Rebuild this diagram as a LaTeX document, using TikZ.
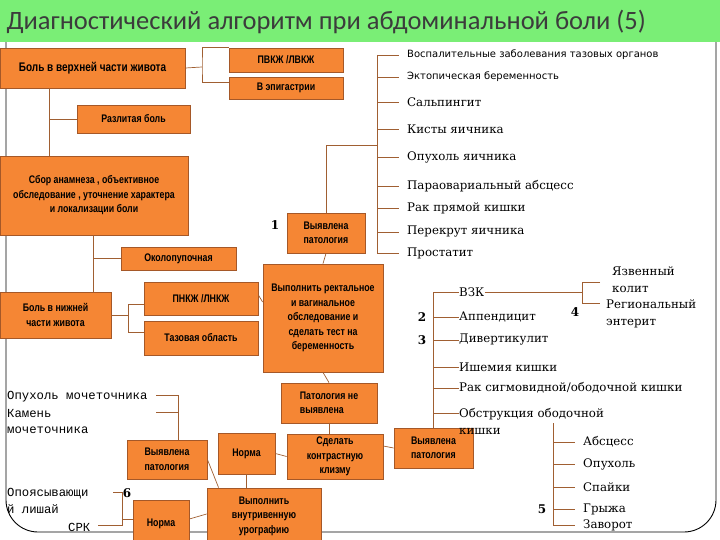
\documentclass[tikz,border=0pt]{standalone}
\usepackage{fontspec}
\setmainfont{DejaVu Serif}
\newfontfamily\boxfont{Liberation Sans}[FakeStretch=0.8]
\newfontfamily\titlefont{Carlito}
\newfontfamily\notefont{DejaVu Sans}
\newfontfamily\sidefont{Liberation Mono}
\definecolor{boxfill}{RGB}{245,134,52}
\definecolor{boxedge}{RGB}{165,88,40}
\definecolor{linkcol}{RGB}{160,95,50}
\definecolor{titlebar}{RGB}{122,238,118}
\definecolor{titletext}{RGB}{60,60,60}

\begin{document}
\begin{tikzpicture}[x=1pt,y=-1pt,
    box/.style={draw=boxedge,fill=boxfill,line width=0.8pt,inner sep=2pt,align=center,
      font=\boxfont\bfseries\fontsize{11}{14.5}\selectfont},
    link/.style={draw=linkcol,line width=0.7pt},
    item/.style={anchor=west,inner sep=0pt,align=left,font=\fontsize{11.8}{17}\selectfont},
    note/.style={anchor=west,inner sep=0pt,font=\notefont\fontsize{10}{12}\selectfont},
    side/.style={anchor=west,inner sep=0pt,align=left,font=\sidefont\fontsize{12.3}{16.5}\selectfont},
    num/.style={inner sep=0pt,font=\bfseries\fontsize{12}{14}\selectfont}]
  \clip (0,0) rectangle (720,540);
  \draw[line width=0.9pt,rounded corners=32pt] (6,40) -- (6,532) -- (716,532) -- (716,40);
  \fill[titlebar] (0,0) rectangle (720,42);
  \node[anchor=west,text=titletext,font=\titlefont\fontsize{26.5}{30}\selectfont] (title) at (3,22)
    {Диагностический алгоритм при абдоминальной боли (5)};

  % boxes
  \node[box,minimum width=185pt,minimum height=40pt,font=\boxfont\bfseries\fontsize{12.5}{14}\selectfont] (upper) at (92.5,68) {Боль в верхней части живота};
  \node[box,minimum width=114pt,minimum height=24pt] (pvkj) at (286,60) {ПВКЖ /ЛВКЖ};
  \node[box,minimum width=114pt,minimum height=22pt] (epig) at (286,88) {В эпигастрии};
  \node[box,minimum width=113pt,minimum height=28pt] (diffuse) at (133.5,119) {Разлитая боль};
  \node[box,minimum width=188pt,minimum height=79pt] (history) at (94,195.5)
    {Сбор анамнеза , объективное\\обследование , уточнение характера\\и локализации боли};
  \node[box,minimum width=115pt,minimum height=23pt] (umbil) at (178.5,258.5) {Околопупочная};
  \node[box,minimum width=111pt,minimum height=46pt] (lower) at (55.5,315) {Боль в нижней\\части живота};
  \node[box,minimum width=114pt,minimum height=33pt] (pnkj) at (201,298.5) {ПНКЖ /ЛНКЖ};
  \node[box,minimum width=114pt,minimum height=34pt] (pelvis) at (201,338) {Тазовая область};
  \node[box,minimum width=78pt,minimum height=40pt,align=left] (found1) at (326,233) {Выявлена\\патология};
  \node[box,minimum width=120pt,minimum height=108pt] (exam) at (323,318)
    {Выполнить ректальное\\и вагинальное\\обследование и\\сделать тест на\\беременность};
  \node[box,minimum width=96pt,minimum height=40pt,align=left] (nofound) at (329,403) {Патология не\\выявлена};
  \node[box,minimum width=96pt,minimum height=45pt] (enema) at (335,456.5) {Сделать\\контрастную\\клизму};
  \node[box,minimum width=79pt,minimum height=40pt,align=left] (found3) at (433.5,448) {Выявлена\\патология};
  \node[box,minimum width=80pt,minimum height=39pt,align=left] (found2) at (167,459.5) {Выявлена\\патология};
  \node[box,minimum width=57pt,minimum height=41pt] (norm1) at (246.5,453.5) {Норма};
  \node[box,minimum width=114pt,minimum height=56pt] (uro) at (264,516) {Выполнить\\внутривенную\\урографию};
  \node[box,minimum width=56pt,minimum height=48pt] (norm2) at (161,524) {Норма};

  % upper branch
  \draw[link] (upper.east) -- (202,67) coordinate (j1);
  \draw[link] (pvkj.north west) -| (j1) |- (epig.west |- 0,82);
  \draw[link] (upper.south -| 49,0) -- (history.north -| 49,0);
  \draw[link] (diffuse.west) -- (diffuse.west -| 49,0);
  \draw[link] (history.south -| 93,0) -- (lower.north -| 93,0);
  \draw[link] (umbil.west) -- (umbil.west -| 93,0);
  \draw[link] (lower.east |- 0,315) -- (128,315);
  \draw[link] (pnkj.west |- 0,304) -| (128,332) -- (pelvis.west |- 0,332);
  \draw[link] (pnkj.east |- 0,295) -- (exam.west |- 0,302);

  % pelvic list
  \node[note] (r1) at (407,55) {Воспалительные заболевания тазовых органов};
  \node[note] (r2) at (407,77) {Эктопическая беременность};
  \node[item] (r3) at (407,102) {Сальпингит};
  \node[item] (r4) at (407,129) {Кисты яичника};
  \node[item] (r5) at (407,157) {Опухоль яичника};
  \node[item] (r6) at (407,186) {Параовариальный абсцесс};
  \node[item] (r7) at (407,208) {Рак прямой кишки};
  \node[item] (r8) at (407,232) {Перекрут яичника};
  \node[item] (r9) at (407,253) {Простатит};
  \draw[link] ([xshift=-30pt]r1.west) -- ([xshift=-30pt]r9.west);
  \draw[link] ([xshift=-30pt]r1.west) -- ([xshift=-8pt]r1.west);
  \draw[link] ([xshift=-30pt]r2.west) -- ([xshift=-8pt]r2.west);
  \draw[link] ([xshift=-30pt]r3.west) -- ([xshift=-8pt]r3.west);
  \draw[link] ([xshift=-30pt]r4.west) -- ([xshift=-8pt]r4.west);
  \draw[link] ([xshift=-30pt]r5.west) -- ([xshift=-8pt]r5.west);
  \draw[link] ([xshift=-30pt]r6.west) -- ([xshift=-8pt]r6.west);
  \draw[link] ([xshift=-30pt]r7.west) -- ([xshift=-8pt]r7.west);
  \draw[link] ([xshift=-30pt]r8.west) -- ([xshift=-8pt]r8.west);
  \draw[link] ([xshift=-30pt]r9.west) -- ([xshift=-8pt]r9.west);
  \draw[link] (found1.north) |- (377,145);
  \node[num] (n1) at (275,225) {1};

  % middle chain
  \draw[link] (found1.south) -- (exam.north);
  \draw[link] (exam.south) -- (nofound.north);
  \draw[link] (nofound.south) -- (enema.north -| nofound.south);
  \draw[link] (enema.west) -- (norm1.east);
  \draw[link] (enema.east |- 0,446) -- (found3.west);
  \draw[link] (norm1.south) -- (uro.north -| norm1.south);
  \draw[link] (found2.east) -- ([xshift=12pt]uro.north west);
  \draw[link] (norm2.east |- 0,519) -- (uro.west |- 0,514);

  % bowel list
  \node[item] (c1) at (459,292) {ВЗК};
  \node[item] (c2) at (459,317) {Аппендицит};
  \node[item] (c3) at (459,340) {Дивертикулит};
  \node[item] (c4) at (459,367) {Ишемия кишки};
  \node[item] (c5) at (459,388) {Рак сигмовидной/ободочной кишки};
  \node[item] (c6) at (459,421.5) {Обструкция ободочной\\кишки};
  \draw[link] (found3.north) -- (found3.north |- c1.west) -- (c1.west);
  \draw[link] (found3.north |- c2.west) -- (c2.west);
  \draw[link] (found3.north |- c3.west) -- (c3.west);
  \draw[link] (found3.north |- c4.west) -- (c4.west);
  \draw[link] (found3.north |- c5.west) -- (c5.west);
  \draw[link] (found3.north |- 0,413) -- (c6.west |- 0,413);
  \node[num] (n2) at (422,317) {2};
  \node[num] (n3) at (422,340) {3};

  \node[item] (ulcer) at (612,280) {Язвенный\\колит};
  \node[item] (crohn) at (606,314) {Региональный\\энтерит};
  \draw[link] (c1.east) -- (582,292);
  \draw[link] (600,282) -| (582,303) -- (600,303);
  \node[num] (n4) at (575,312) {4};

  \node[item] (o1) at (583,442) {Абсцесс};
  \node[item] (o2) at (583,464) {Опухоль};
  \node[item] (o3) at (583,487) {Спайки};
  \node[item] (o4) at (583,509) {Грыжа};
  \node[item] (o5) at (583,525) {Заворот};
  \draw[link] (553,423) -- (553,525);
  \draw[link] (553,442) -- ([xshift=-8pt]o1.west);
  \draw[link] (553,464) -- ([xshift=-8pt]o2.west);
  \draw[link] (553,487) -- ([xshift=-8pt]o3.west);
  \draw[link] (553,509) -- ([xshift=-8pt]o4.west);
  \draw[link] (553,525) -- ([xshift=-8pt]o5.west);
  \node[num] (n5) at (542,509) {5};

  % urinary side
  \node[side] (l1) at (7,397) {Опухоль мочеточника};
  \node[side] (l2) at (7,421.5) {Камень\\мочеточника};
  \node[side] (l3) at (7,501) {Опоясывающи\\й лишай};
  \node[side] (l4) at (68,527) {СРК};
  \draw[link] (156,395) -| (found2.north -| 178,0);
  \draw[link] (156,412) -- (178,412);
  \draw[link] (norm2.west |- 0,519) -- (122,519);
  \draw[link] (113,492) -| (122,525) -- (98,525);
  \node[num] (n6) at (127,493) {6};
\end{tikzpicture}
\end{document}
